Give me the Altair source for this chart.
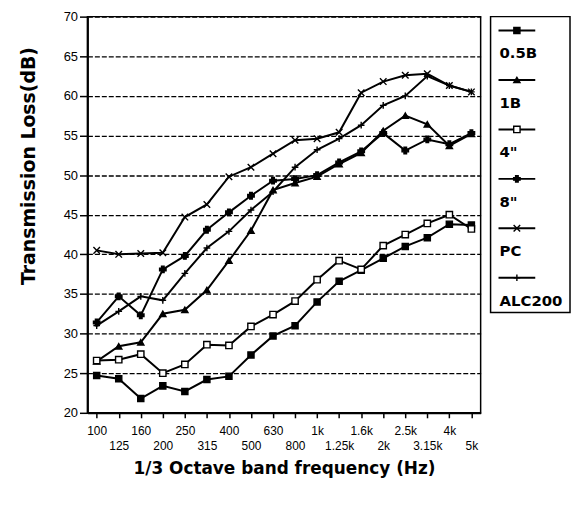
import altair as alt
import pandas as pd

freqs = ["100", "125", "160", "200", "250", "315", "400", "500", "630", "800",
         "1k", "1.25k", "1.6k", "2k", "2.5k", "3.15k", "4k", "5k"]

series = ["0.5B", "1B", "4\"", "8\"", "PC", "ALC200"]

tl_05B = [24.7, 24.3, 21.8, 23.4, 22.7, 24.2, 24.6, 27.3, 29.7, 31.0, 34.0, 36.6, 38.0, 39.5, 41.0, 42.1, 43.8, 43.7]
tl_1B = [26.5, 28.4, 28.9, 32.5, 33.0, 35.5, 39.2, 43.0, 48.1, 49.0, 49.8, 51.4, 52.8, 55.6, 57.5, 56.4, 53.7, 55.2]
tl_4in = [26.6, 26.7, 27.4, 25.0, 26.1, 28.6, 28.5, 30.9, 32.4, 34.1, 36.8, 39.2, 38.1, 41.1, 42.5, 43.9, 45.0, 43.2]
tl_8in = [31.4, 34.7, 32.3, 38.1, 39.8, 43.1, 45.3, 47.4, 49.3, 49.5, 50.0, 51.6, 53.0, 55.3, 53.1, 54.5, 53.9, 55.3]
tl_PC = [40.5, 40.0, 40.1, 40.2, 44.7, 46.3, 49.8, 51.0, 52.7, 54.4, 54.6, 55.4, 60.4, 61.8, 62.6, 62.8, 61.3, 60.5]
tl_ALC200 = [31.0, 32.8, 34.7, 34.2, 37.6, 40.8, 42.9, 45.6, 47.9, 51.0, 53.2, 54.6, 56.3, 58.8, 60.0, 62.5, 61.3, 60.5]

all_values = [tl_05B, tl_1B, tl_4in, tl_8in, tl_PC, tl_ALC200]

rows = []
for s, vals in zip(series, all_values):
    for f, v in zip(freqs, vals):
        rows.append({"series": s, "freq": f, "tl": v})
df = pd.DataFrame(rows)
legend_df = pd.DataFrame({"series": series})

FONT = "Liberation Sans"
BOLD_FONT = "DejaVu Sans"
X_PATH = "M-1,-1L1,1M-1,1L1,-1"
PLUS_PATH = "M-1,0L1,0M0,-1L0,1"

shape_scale = alt.Scale(domain=series, range=["square", "triangle-up", "square", "cross", X_PATH, PLUS_PATH])
fill_scale = alt.Scale(domain=series, range=["black", "black", "white", "black", "white", "white"])
size_scale = alt.Scale(domain=series, range=[38, 45, 32, 22, 55, 50])

label_expr = "indexof(" + str(freqs).replace("'", '"') + ", datum.value) % 2 == 1 ? ['', datum.label] : datum.label"

x_enc = alt.X("freq:N", sort=freqs,
              scale=alt.Scale(type="point", padding=0.42),
              axis=alt.Axis(title="1/3 Octave band frequency (Hz)", labelAngle=0,
                            labelExpr=label_expr, labelFont=FONT, labelFontSize=12,
                            labelLineHeight=15, labelPadding=8, labelColor="black",
                            tickSize=5, tickColor="black", tickWidth=1.5,
                            domainColor="black", domainWidth=2, grid=False,
                            titleFont=BOLD_FONT, titleFontSize=17, titleFontWeight="bold",
                            titleColor="black", titleY=56, titleBaseline="middle"))
y_enc = alt.Y("tl:Q", scale=alt.Scale(domain=[20, 70], nice=False, zero=False),
              axis=alt.Axis(title="Transmission Loss(dB)", values=list(range(20, 75, 5)),
                            labelFont=FONT, labelFontSize=13, labelColor="black",
                            labelPadding=2, tickSize=8, tickColor="black", tickWidth=1.5,
                            domainColor="black", domainWidth=2,
                            grid=True, gridColor="black", gridDash=[5, 2], gridWidth=1.3,
                            gridOpacity=1,
                            titleFont=BOLD_FONT, titleFontSize=19, titleFontWeight="bold",
                            titleColor="black", titleX=-59, titleY=150,
                            titleAlign="center", titleBaseline="middle"))

lines = alt.Chart(df).mark_line(color="black", strokeWidth=2).encode(
    x=x_enc, y=y_enc, detail="series:N")
points = alt.Chart(df).mark_point(stroke="black", strokeWidth=1.4, opacity=1).encode(
    x=x_enc, y=y_enc,
    shape=alt.Shape("series:N", scale=shape_scale, legend=None),
    fill=alt.Fill("series:N", scale=fill_scale, legend=None),
    size=alt.Size("series:N", scale=size_scale, legend=None))

main = alt.layer(lines, points).properties(width=396, height=399)

ly = alt.Y("series:N", sort=series, axis=None,
           scale=alt.Scale(type="point", padding=0, range=[14, 263]))
leg_rules = alt.Chart(legend_df).mark_rule(color="black", strokeWidth=2).encode(
    y=ly, x=alt.value(8), x2=alt.value(45))
leg_points = alt.Chart(legend_df).mark_point(stroke="black", strokeWidth=1.4, opacity=1).encode(
    y=ly, x=alt.value(26.5),
    shape=alt.Shape("series:N", scale=shape_scale, legend=None),
    fill=alt.Fill("series:N", scale=fill_scale, legend=None),
    size=alt.Size("series:N", scale=size_scale, legend=None))
leg_text = alt.Chart(legend_df).mark_text(align="left", baseline="middle", dy=23,
                                          font=BOLD_FONT, fontSize=15, fontWeight="bold",
                                          color="black").encode(
    y=ly, x=alt.value(9), text="series:N")
legend_panel = alt.layer(leg_rules, leg_points, leg_text).properties(width=80, height=298)

chart = alt.hconcat(main, legend_panel, spacing=8).properties(
    padding={"left": 11, "top": 0, "right": 0, "bottom": 5}
).configure(background="white").configure_view(stroke="black", strokeWidth=1.5)

chart.save("out.html", embed_options={"renderer": "svg", "actions": False})
